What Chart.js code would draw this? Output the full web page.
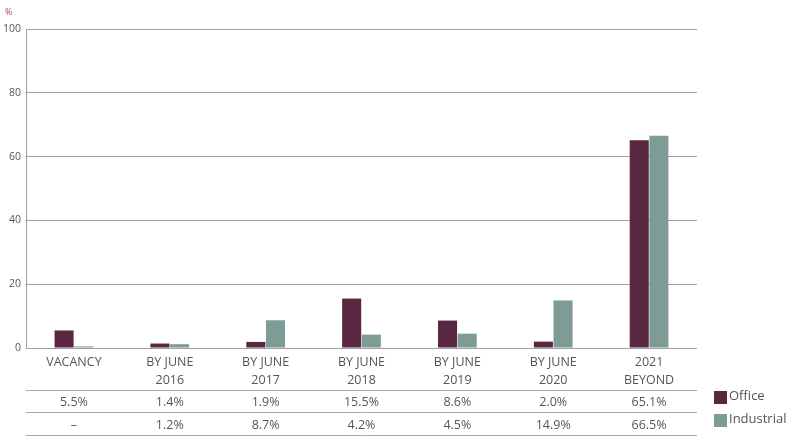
<!DOCTYPE html>
<html><head><meta charset="utf-8">
<script src="https://cdn.jsdelivr.net/npm/chart.js@4.4.1/dist/chart.umd.min.js"></script>
<style>html,body{margin:0;padding:0;background:#fff}#wrap{width:796px;height:447px}</style>
</head><body><div id="wrap"><canvas id="c" width="796" height="447"></canvas></div>
<script>
const categories = [['VACANCY'], ['BY JUNE','2016'], ['BY JUNE','2017'], ['BY JUNE','2018'], ['BY JUNE','2019'], ['BY JUNE','2020'], ['2021','BEYOND']];
const officeValues = [5.5, 1.4, 1.9, 15.5, 8.6, 2.0, 65.1];
const industrialValues = [0.5, 1.2, 8.7, 4.2, 4.5, 14.9, 66.5];
const officeTable = ['5.5%', '1.4%', '1.9%', '15.5%', '8.6%', '2.0%', '65.1%'];
const industrialTable = ['–', '1.2%', '8.7%', '4.2%', '4.5%', '14.9%', '66.5%'];
const yTicks = [0, 20, 40, 60, 80, 100];
const seriesNames = ['Office', 'Industrial'];
const colors = ['#5a2742', '#7e9c96'];
const FONT = "'Open Sans', 'Noto Sans', sans-serif";

const tablePlugin = {
  id: 'tablePlugin',
  afterDraw(chart) {
    const ctx = chart.ctx, x = chart.scales.x, a = chart.chartArea;
    ctx.save();
    ctx.strokeStyle = '#a8a8a8'; ctx.lineWidth = 1;
    [390.5, 412.5, 435.5].forEach(y => { ctx.beginPath(); ctx.moveTo(a.left, y); ctx.lineTo(a.right, y); ctx.stroke(); });
    ctx.fillStyle = '#555'; ctx.font = '12.5px ' + FONT; ctx.textAlign = 'center'; ctx.textBaseline = 'middle';
    categories.forEach((c, i) => {
      const px = x.getPixelForValue(i);
      ctx.fillText(officeTable[i], px, 402);
      ctx.fillText(industrialTable[i], px, 425);
    });
    // legend
    ctx.textAlign = 'left';
    [[391, 0], [414, 1]].forEach(([y, k]) => {
      ctx.fillStyle = colors[k]; ctx.fillRect(714, y, 13, 13);
      ctx.fillStyle = '#555'; ctx.font = '13px ' + FONT; ctx.fillText(seriesNames[k], 729, y + 5);
    });
    // % label
    ctx.font = '9px ' + FONT; ctx.fillStyle = '#a0505a'; ctx.fillText('%', 5, 12);
    ctx.restore();
  }
};

new Chart(document.getElementById('c'), {
  type: 'bar',
  data: {
    labels: categories,
    datasets: [
      { label: seriesNames[0], data: officeValues, backgroundColor: colors[0], categoryPercentage: 0.41, barPercentage: 0.97 },
      { label: seriesNames[1], data: industrialValues, backgroundColor: colors[1], categoryPercentage: 0.41, barPercentage: 0.97 }
    ]
  },
  options: {
    responsive: false, animation: false, devicePixelRatio: 1,
    layout: { padding: { top: 29, right: 99, left: 0, bottom: 0 } },
    plugins: { legend: { display: false }, tooltip: { enabled: false } },
    scales: {
      x: {
        grid: { display: false, drawTicks: false },
        border: { display: false },
        ticks: { color: '#555', font: { family: FONT, size: 12.5, lineHeight: 1.45 }, padding: 5, maxRotation: 0, autoSkip: false },
        afterFit(s) { s.height = 99; }
      },
      y: {
        min: 0, max: 100,
        afterBuildTicks(s) { s.ticks = yTicks.map(v => ({ value: v })); },
        grid: { color: '#a0a0a0', drawTicks: false, lineWidth: 1 },
        border: { display: true, color: '#a0a0a0' },
        ticks: { color: '#555', font: { family: FONT, size: 10.5 }, padding: 5 },
        afterFit(s) { s.width = 26; }
      }
    }
  },
  plugins: [tablePlugin]
});
</script></body></html>
